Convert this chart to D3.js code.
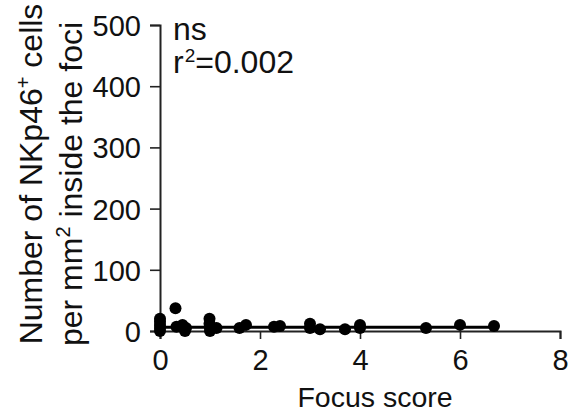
<!DOCTYPE html>
<html>
<head>
<meta charset="utf-8">
<script src="https://cdn.jsdelivr.net/npm/d3@7"></script>
<style>
  body { margin: 0; background: #fff; }
  svg text { font-family: "Liberation Sans", Arial, sans-serif; fill: #111; }
</style>
</head>
<body>
<div id="chart"></div>
<script>
// focus score vs NKp46+ cells per mm2
const focusScore = [0, 0, 0, 0, 0, 0.31, 0.33, 0.45, 0.5, 0.52, 0.99, 0.99, 1.0, 1.0, 1.13,
  1.59, 1.72, 2.28, 2.4, 3.0, 3.0, 3.2, 3.7, 4.0, 4.0, 5.32, 6.0, 6.68]
const nkCells = [20, 15, 10, 5, 0, 37, 7, 10, 0, 5, 20, 12, 5, 0, 5,
  5, 10, 7, 8, 12, 5, 3, 3, 10, 5, 5, 10, 8]
const fitX = [0, 6.68]
const fitY = [6, 6]
const xTicks = [0, 2, 4, 6, 8]
const yTicks = [0, 100, 200, 300, 400, 500]

const margin = { top: 25, right: 23, bottom: 85, left: 160 }
const width = 583 - margin.left - margin.right
const height = 416 - margin.top - margin.bottom

const svg = d3.select("#chart")
  .append("svg")
  .attr("width", 583)
  .attr("height", 416)

const g = svg.append("g")
  .attr("transform", "translate(" + margin.left + "," + margin.top + ")")

const x = d3.scaleLinear().domain([0, 8]).range([0, width])
const y = d3.scaleLinear().domain([0, 500]).range([height, 0])

// axes
const gx = g.append("g")
  .attr("transform", "translate(0," + height + ")")
  .call(d3.axisBottom(x).tickValues(xTicks).tickSize(8).tickPadding(8).tickFormat(d3.format("d")))
const gy = g.append("g")
  .call(d3.axisLeft(y).tickValues(yTicks).tickSize(10).tickPadding(9).tickFormat(d3.format("d")))

for (const ax of [gx, gy]) {
  ax.attr("font-family", null)
  ax.select(".domain").attr("stroke", "#222").attr("stroke-width", 2)
  ax.selectAll(".tick line").attr("stroke", "#222").attr("stroke-width", 1.6)
  ax.selectAll(".tick text")
    .style("font-size", "29px")
    .attr("fill", "#111")
}
gx.selectAll(".tick text").attr("dy", "0.8em")
gy.selectAll(".tick text").attr("dy", "0.36em")

// regression line
g.append("line")
  .attr("x1", x(fitX[0])).attr("y1", y(fitY[0]))
  .attr("x2", x(fitX[1])).attr("y2", y(fitY[1]))
  .attr("stroke", "#000")
  .attr("stroke-width", 3)

// points
g.selectAll("dot")
  .data(focusScore.map((f, i) => ({ x: f, y: nkCells[i] })))
  .join("circle")
  .attr("cx", d => x(d.x))
  .attr("cy", d => y(d.y))
  .attr("r", 6)
  .attr("fill", "#000")

// x title
svg.append("text")
  .attr("x", 375)
  .attr("y", 407)
  .attr("text-anchor", "middle")
  .style("font-size", "28.5px")
  .text("Focus score")

// y title, two lines
const yt = svg.append("g").attr("transform", "rotate(-90)")
const l1 = yt.append("text")
  .attr("x", -174).attr("y", 42)
  .attr("text-anchor", "middle")
  .style("font-size", "32px")
l1.append("tspan").text("Number of NKp46")
l1.append("tspan").attr("dy", -12).style("font-size", "20px").text("+")
l1.append("tspan").attr("dy", 12).text(" cells")

const l2 = yt.append("text")
  .attr("x", -184).attr("y", 82)
  .attr("text-anchor", "middle")
  .style("font-size", "32px")
l2.append("tspan").text("per mm")
l2.append("tspan").attr("dy", -12).style("font-size", "20px").text("2")
l2.append("tspan").attr("dy", 12).text(" inside the foci")

// annotation
svg.append("text")
  .attr("x", 173).attr("y", 40)
  .style("font-size", "32px")
  .text("ns")
const r2 = svg.append("text")
  .attr("x", 173).attr("y", 73)
  .style("font-size", "32px")
r2.append("tspan").text("r")
r2.append("tspan").attr("dy", -11).attr("dx", 1).style("font-size", "19px").text("2")
r2.append("tspan").attr("dy", 11).text("=0.002")
</script>
</body>
</html>
